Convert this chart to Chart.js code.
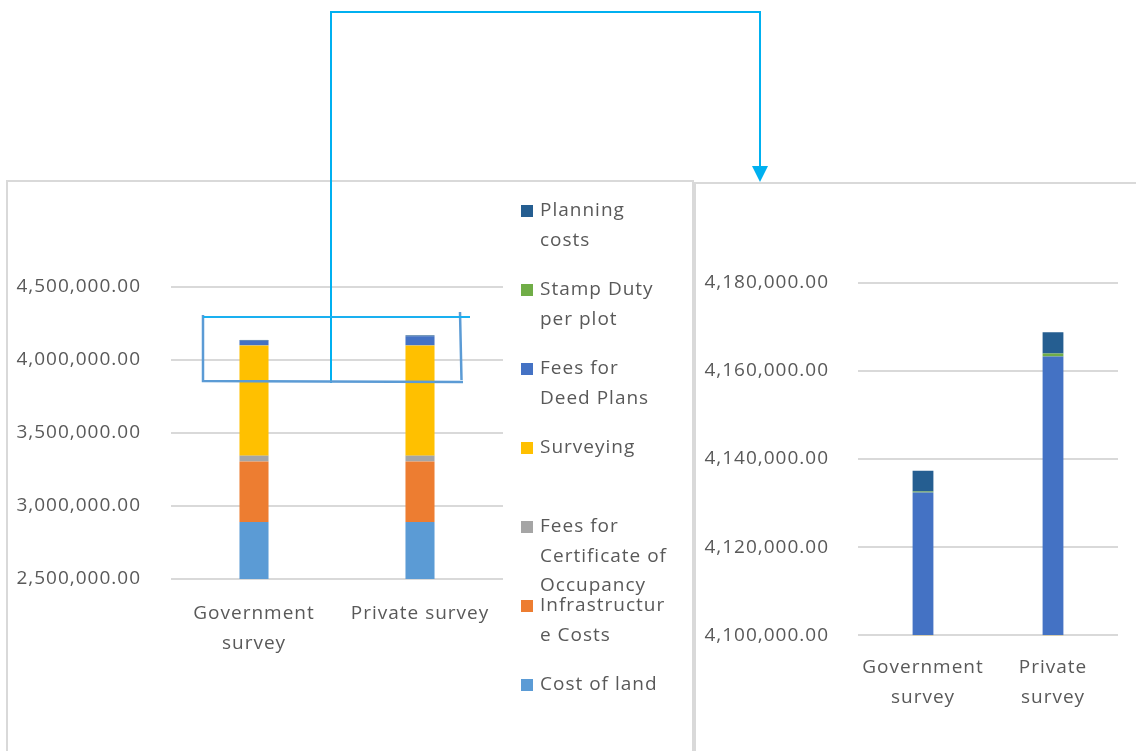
<!DOCTYPE html>
<html>
<head>
<meta charset="utf-8">
<title>Cost comparison</title>
<script src="https://cdn.jsdelivr.net/npm/chart.js@4.4.0/dist/chart.umd.min.js"></script>
<style>
  body { margin: 0; width: 1136px; height: 751px; background: #fff; position: relative; overflow: hidden; }
  .panel { position: absolute; border: 2px solid #d9d9d9; border-bottom: none; box-sizing: border-box; }
  #leftPanel { left: 6px; top: 180px; width: 688px; height: 571px; }
  #rightPanel { left: 694px; top: 182px; width: 460px; height: 569px; }
  #leftChart { position: absolute; left: 8px; top: 182px; }
  #zoomChart { position: absolute; left: 697px; top: 185px; }
  #marks { position: absolute; left: 0; top: 0; pointer-events: none; }
</style>
</head>
<body>
<div class="panel" id="leftPanel"></div>
<div class="panel" id="rightPanel"></div>
<canvas id="leftChart" width="684" height="569"></canvas>
<canvas id="zoomChart" width="439" height="566"></canvas>
<svg id="marks" width="1136" height="751">
  <!-- connector from the highlighted band to the zoomed chart -->
  <path d="M331 383 V12 H760 V168" stroke="#00b0f0" stroke-width="2" fill="none"/>
  <polygon points="752,166 768,166 760,182" fill="#00b0f0"/>
  <!-- highlight box around the bar tops -->
  <path d="M203 315 V381 L463 382 M460 312 L461.5 380" stroke="#5b9bd5" stroke-width="2.5" fill="none"/>
  <path d="M203 317 H470" stroke="#1ab0f0" stroke-width="2" fill="none"/>
</svg>
<script>
const categories = [['Government', 'survey'], 'Private survey'];
const zoomCategories = [['Government', 'survey'], ['Private', 'survey']];

const seriesNames = ['Cost of land', 'Infrastructure Costs', 'Fees for Certificate of Occupancy',
  'Surveying', 'Fees for Deed Plans', 'Stamp Duty per plot', 'Planning costs'];
const legendLines = [['Cost of land'], ['Infrastructur', 'e Costs'], ['Fees for', 'Certificate of', 'Occupancy'],
  ['Surveying'], ['Fees for', 'Deed Plans'], ['Stamp Duty', 'per plot'], ['Planning', 'costs']];
const seriesColors = ['#5b9bd5', '#ed7d31', '#a5a5a5', '#ffc000', '#4472c4', '#70ad47', '#255e91'];

// values per category: [Government survey, Private survey]
const costOfLand = [2890000, 2890000];
const infrastructure = [415000, 415000];
const certOccupancy = [40000, 40000];
const surveying = [755000, 755000];
const deedPlans = [32400, 63200];
const stampDuty = [200, 700];
const planningCosts = [4700, 4800];
const seriesValues = [costOfLand, infrastructure, certOccupancy, surveying, deedPlans, stampDuty, planningCosts];

const leftTicks = [2500000, 3000000, 3500000, 4000000, 4500000];
const zoomTicks = [4100000, 4120000, 4140000, 4160000, 4180000];

const textColor = '#595959';
const gridColor = '#d9d9d9';
const font = { family: '"Open Sans"', size: 19, lineHeight: 1.55 };

Chart.defaults.font.family = '"Open Sans"';

// slightly tracked-out text, like the office renderer
Chart.register({
  id: 'tracking',
  beforeDraw(chart) { chart.ctx.letterSpacing = '1px'; }
});

function money(v) {
  return v.toLocaleString('en-US', { minimumFractionDigits: 2, maximumFractionDigits: 2 });
}

function makeDatasets(barPct) {
  return seriesNames.map((name, i) => ({
    label: name,
    data: seriesValues[i],
    backgroundColor: seriesColors[i],
    legendLines: legendLines[i],
    barPercentage: barPct,
    categoryPercentage: 1
  }));
}

function scales(ticks, yWidth, yPad, xPad) {
  return {
    x: {
      stacked: true,
      grid: { display: false },
      border: { display: false },
      ticks: { color: textColor, font, padding: xPad, maxRotation: 0, autoSkip: false },
      afterFit: a => { a.height = 80; }
    },
    y: {
      stacked: true,
      min: ticks[0],
      max: ticks[ticks.length - 1],
      border: { display: false },
      grid: { color: gridColor, lineWidth: 2, drawTicks: false },
      ticks: { color: textColor, font, padding: yPad, callback: v => money(v) },
      afterBuildTicks: a => { a.ticks = ticks.map(v => ({ value: v })); },
      afterFit: a => { a.width = yWidth; }
    }
  };
}

// legend to the right of the plot, top series first
const sideLegend = {
  id: 'sideLegend',
  afterDraw(chart) {
    const { ctx, chartArea } = chart;
    const x = chartArea.right + 18;
    ctx.save();
    ctx.font = '19px "Open Sans"';
    ctx.letterSpacing = '1px';
    ctx.textBaseline = 'middle';
    chart.data.datasets.slice().reverse().forEach((ds, i) => {
      const y = 29 + i * 79;
      ctx.fillStyle = ds.backgroundColor;
      ctx.fillRect(x, y - 6, 12, 12);
      ctx.fillStyle = textColor;
      ds.legendLines.forEach((line, k) => ctx.fillText(line, x + 19, y + k * 29.5));
    });
    ctx.restore();
  }
};

new Chart(document.getElementById('leftChart'), {
  type: 'bar',
  data: { labels: categories, datasets: makeDatasets(0.175) },
  options: {
    responsive: false,
    animation: false,
    events: [],
    layout: { padding: { top: 105, right: 189, bottom: 92, left: 0 } },
    plugins: { legend: { display: false }, tooltip: { enabled: false } },
    scales: scales(leftTicks, 163, 30, 12)
  },
  plugins: [sideLegend]
});

new Chart(document.getElementById('zoomChart'), {
  type: 'bar',
  data: { labels: zoomCategories, datasets: makeDatasets(0.16) },
  options: {
    responsive: false,
    animation: false,
    events: [],
    layout: { padding: { top: 97.5, right: 18, bottom: 35.7, left: 0 } },
    plugins: { legend: { display: false }, tooltip: { enabled: false } },
    scales: scales(zoomTicks, 161, 29, 9.7)
  }
});
</script>
</body>
</html>
